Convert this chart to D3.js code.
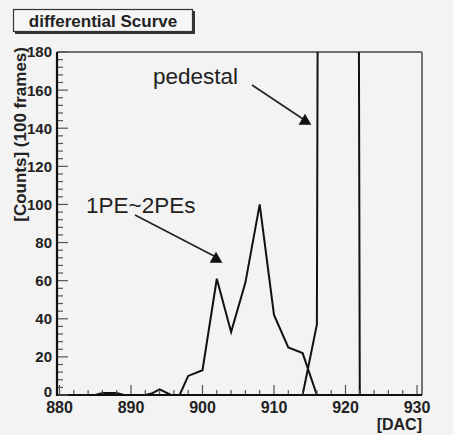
<!DOCTYPE html>
<html>
<head>
<meta charset="utf-8">
<script src="https://cdn.jsdelivr.net/npm/d3@7"></script>
<style>
  html, body { margin: 0; padding: 0; background: #f3f3f3; }
  svg { display: block; }
  text { font-family: "Liberation Sans", Arial, Helvetica, sans-serif; fill: #222; }
</style>
</head>
<body>
<svg id="chart" width="453" height="435"></svg>
<script>
// Differential S-curve: counts per DAC step (100 frames)
const signalDac    = [880, 885, 886, 888, 889, 892, 893, 894, 895.6, 896.8, 898, 900, 902, 904, 906, 908, 910, 912, 914, 916, 930];
const signalCounts = [0,   0,   1,   1,   0,   0,   1,   3,   0,     0,     10,  13,  61,  33,  59,  100, 42,  25,  22,  0,   0];

// Pedestal peak (far off the top of the scale)
const pedestalDac    = [880, 914, 916, 918,  920,  922, 930];
const pedestalCounts = [0,   0,   37,  3000, 3000, 0,   0];

const xTicks = [880, 890, 900, 910, 920, 930];
const yTicks = [0, 20, 40, 60, 80, 100, 120, 140, 160, 180];

const titleText = "differential Scurve";
const xTitle = "[DAC]";
const yTitle = "[Counts] (100 frames)";

const annotations = [
  { text: "pedestal",  tx: 153, ty: 84,  x1: 252, y1: 85,  x2: 303, y2: 119, mx: 305, my: 121 },
  { text: "1PE~2PEs",  tx: 86,  ty: 213, x1: 135, y1: 215, x2: 214, y2: 256, mx: 216, my: 259 }
];

const svg = d3.select("#chart");
const L = 57, R = 422, T = 52, B = 395;

const x = d3.scaleLinear().domain([879.65, 930.7]).range([L, R]);
const y = d3.scaleLinear().domain([0, 180]).range([B, T]);

// title box with drop shadow
svg.append("rect").attr("x", 15).attr("y", 11).attr("width", 180).attr("height", 23).attr("fill", "#333");
svg.append("rect").attr("x", 13.5).attr("y", 9.5).attr("width", 179).attr("height", 22)
  .attr("fill", "#f6f6f6").attr("stroke", "#333").attr("stroke-width", 1.2);
svg.append("text").attr("x", 103).attr("y", 27).attr("text-anchor", "middle")
  .attr("font-size", 17).attr("font-weight", "bold").text(titleText);

// frame (top and right)
svg.append("line").attr("x1", L).attr("x2", R).attr("y1", T).attr("y2", T)
  .attr("stroke", "#444").attr("stroke-width", 1.5);
svg.append("line").attr("x1", R).attr("x2", R).attr("y1", T).attr("y2", B)
  .attr("stroke", "#666").attr("stroke-width", 1.8);

// clip for data
svg.append("clipPath").attr("id", "plotClip").append("rect")
  .attr("x", L).attr("y", T).attr("width", R - L).attr("height", B - T);

const line = d3.line().x(d => x(d[0])).y(d => y(d[1]));
const gData = svg.append("g").attr("clip-path", "url(#plotClip)");
gData.append("path").datum(d3.zip(signalDac, signalCounts)).attr("d", line)
  .attr("fill", "none").attr("stroke", "#111").attr("stroke-width", 2).attr("stroke-linejoin", "miter");
gData.append("path").datum(d3.zip(pedestalDac, pedestalCounts)).attr("d", line)
  .attr("fill", "none").attr("stroke", "#111").attr("stroke-width", 2);

// x axis ticks (pointing into the frame)
const gx = svg.append("g");
d3.range(880, 931, 2).forEach(v => {
  const major = v % 10 === 0;
  gx.append("line").attr("x1", x(v)).attr("x2", x(v)).attr("y1", B).attr("y2", B - (major ? 10 : 5))
    .attr("stroke", "#555").attr("stroke-width", 1.2);
});
gx.selectAll("text.xt").data(xTicks).join("text").attr("class", "xt")
  .attr("x", d => x(d)).attr("y", 413).attr("text-anchor", "middle")
  .attr("font-size", 16).attr("font-weight", "bold").text(d => d);
gx.append("line").attr("x1", L - 1).attr("x2", R).attr("y1", B).attr("y2", B)
  .attr("stroke", "#111").attr("stroke-width", 2.2);

// y axis ticks
const gy = svg.append("g");
d3.range(0, 181, 4).forEach(v => {
  const major = v % 20 === 0;
  gy.append("line").attr("x1", L).attr("x2", L + (major ? 11 : 6)).attr("y1", y(v)).attr("y2", y(v))
    .attr("stroke", "#555").attr("stroke-width", 1.2);
});
gy.selectAll("text.yt").data(yTicks).join("text").attr("class", "yt")
  .attr("x", 52).attr("y", d => y(d) - (d === 0 ? 3 : 0)).attr("dy", "0.36em").attr("text-anchor", "end")
  .attr("font-size", 15).attr("font-weight", "bold").text(d => d);
gy.append("line").attr("x1", L).attr("x2", L).attr("y1", T).attr("y2", B + 1)
  .attr("stroke", "#111").attr("stroke-width", 2.2);

// axis titles
svg.append("text").attr("x", 422).attr("y", 430).attr("text-anchor", "end")
  .attr("font-size", 16).attr("font-weight", "bold").text(xTitle);
svg.append("text").attr("transform", "translate(26,47) rotate(-90)").attr("text-anchor", "end")
  .attr("font-size", 17).attr("font-weight", "bold").text(yTitle);

// annotations: label, leader line, triangle marker
const sym = d3.symbol().type(d3.symbolTriangle).size(70);
annotations.forEach(a => {
  svg.append("text").attr("x", a.tx).attr("y", a.ty).attr("font-size", 22.5).text(a.text);
  svg.append("line").attr("x1", a.x1).attr("y1", a.y1).attr("x2", a.x2).attr("y2", a.y2)
    .attr("stroke", "#222").attr("stroke-width", 1.6);
  svg.append("path").attr("d", sym).attr("transform", `translate(${a.mx},${a.my})`).attr("fill", "#111");
});
</script>
</body>
</html>
